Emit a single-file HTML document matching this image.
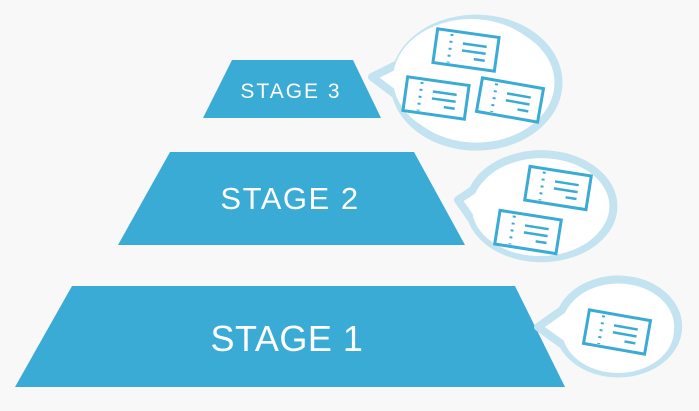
<!DOCTYPE html>
<html><head><meta charset="utf-8"><style>
html,body{margin:0;padding:0;background:#f8f8f8;width:699px;height:411px;overflow:hidden}
</style></head><body>
<svg width="699" height="411" viewBox="0 0 699 411" xmlns="http://www.w3.org/2000/svg">
<defs>
<g id="t">
<rect x="-31" y="-17" width="62" height="34" fill="#fff" stroke="#3aabd4" stroke-width="3"/>
<line x1="-16" y1="-14" x2="-16" y2="15" stroke="#3aabd4" stroke-width="3" stroke-dasharray="2 5"/>
<line x1="-4" y1="-6" x2="20" y2="-6" stroke="#3aabd4" stroke-width="2.5"/>
<line x1="-4" y1="1" x2="20" y2="1" stroke="#3aabd4" stroke-width="2.5"/>
<line x1="9" y1="8" x2="20" y2="8" stroke="#3aabd4" stroke-width="2.5"/>
</g>
</defs>
<g fill="#3aabd4">
<polygon points="232,60 353,60 381,118 203,118"/>
<polygon points="170,152 414,152 465,245 118,245"/>
<polygon points="72,286 515,286 565,387 15,387"/>
</g>
<g fill="#fff" font-family="Liberation Sans, sans-serif" text-anchor="middle">
<text x="291" y="98" font-size="21" letter-spacing="2">STAGE 3</text>
<text x="290" y="209" font-size="31" letter-spacing="1.5">STAGE 2</text>
<text x="287" y="351" font-size="36" letter-spacing="0.5">STAGE 1</text>
</g>
<g fill="#fff" stroke="#c2e3ef" stroke-width="8" stroke-linejoin="round">
<path d="M372,77 L398,64 A82,64 0 1 1 396,95 Z"/>
<path d="M458,200 L473,190 A72,52 0 1 1 472,220 Z"/>
<path d="M538,327 L562,310 A60,47 0 1 1 563,345 Z"/>
</g>
<g fill="#fff">
<ellipse cx="471" cy="79" rx="78" ry="60"/>
<ellipse cx="540" cy="208" rx="68" ry="48"/>
<ellipse cx="618" cy="330" rx="56" ry="43"/>
</g>
<use href="#t" transform="translate(466,50) rotate(8)"/>
<use href="#t" transform="translate(436,98) rotate(8)"/>
<use href="#t" transform="translate(510,100) rotate(10)"/>
<use href="#t" transform="translate(558,188) rotate(9)"/>
<use href="#t" transform="translate(528,232) rotate(9)"/>
<use href="#t" transform="translate(617,332) rotate(10)"/>
</svg>
</body></html>
